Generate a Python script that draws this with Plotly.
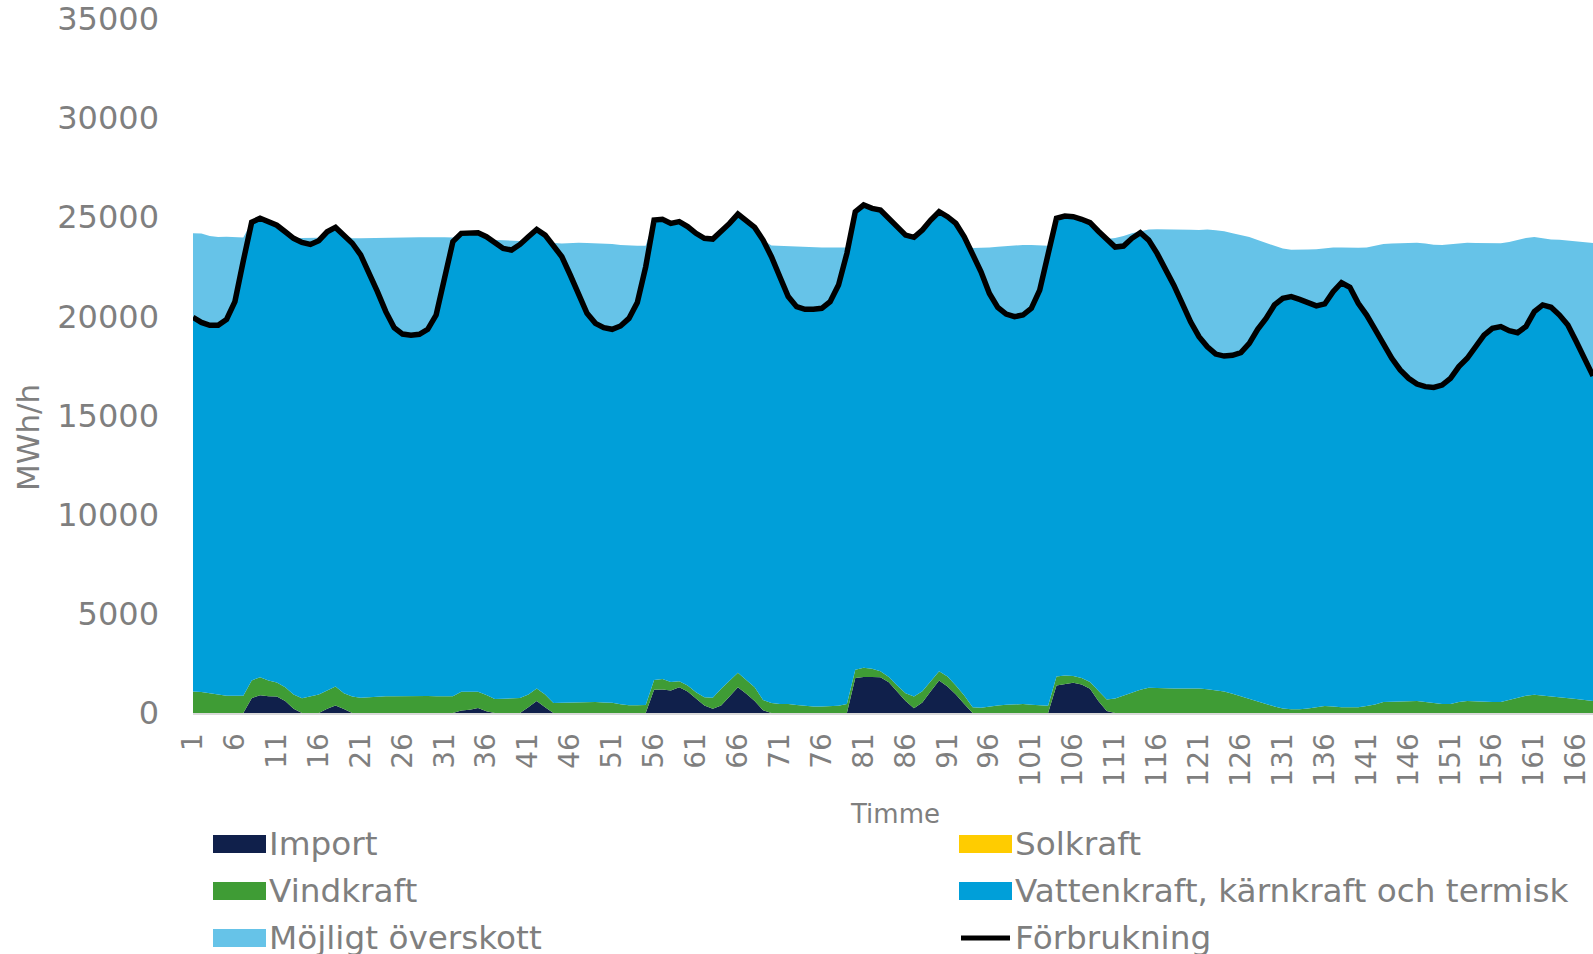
import plotly.graph_objects as go

# Timme 1..168
timme = list(range(1, 169))

# Förbrukning (MWh/h)
forbrukning = [
    19950, 19700, 19550, 19550, 19850, 20750, 22800, 24750, 24950, 24750,
    24600, 24270, 23940, 23730, 23630, 23820, 24270, 24490, 24100, 23690,
    23100, 22250, 21250, 20240, 19430, 19110, 19050, 19100, 19350, 20070,
    21840, 23770, 24190, 24220, 24220, 24020, 23720, 23430, 23350, 23630,
    24020, 24390, 24100, 23600, 23010, 22090, 21080, 20160, 19650, 19430,
    19350, 19520, 19900, 20700, 22500, 24860, 24900, 24690, 24780, 24530,
    24190, 23940, 23900, 24270, 24690, 25160, 24860, 24490, 23850, 23010,
    22000, 21000, 20490, 20360, 20360, 20410, 20740, 21580, 23180, 25280,
    25620, 25450, 25370, 24950, 24440, 24100, 23990, 24360, 24860, 25280,
    25030, 24690, 24020, 23180, 22250, 21160, 20460, 20120, 19990, 20070,
    20410, 21330, 23180, 24950, 25060, 25030, 24900, 24730, 24300, 23900,
    23500, 23550, 23940, 24220, 23850, 23180, 22420, 21580, 20660, 19730,
    18980, 18470, 18100, 18000, 18040, 18170, 18640, 19350, 19900, 20580,
    20910, 21000, 20860, 20710, 20530, 20630, 21250, 21700, 21470, 20660,
    20070, 19350, 18610, 17890, 17300, 16880, 16590, 16460, 16420, 16540,
    16880, 17470, 17890, 18470, 19060, 19400, 19490, 19280, 19180, 19490,
    20240, 20580, 20460, 20070, 19570, 18730, 17800, 17000,
]

import_ = [
    0, 0, 0, 0, 0, 0, 0,
    750, 900, 840, 830, 600, 210, 0, 0, 0, 210, 380, 200, 0,
    0, 0, 0, 0, 0, 0, 0, 0, 0, 0, 0, 0,
    130, 170, 250, 90, 0, 0, 0, 0, 290, 610, 290,
    0, 0, 0, 0, 0, 0, 0, 0, 0, 0, 0, 0,
    1170, 1190, 1140, 1300, 1080, 710, 380, 210, 380, 830, 1300, 970, 600, 140,
    0, 0, 0, 0, 0, 0, 0, 0, 0, 0,
    1770, 1810, 1810, 1800, 1550, 1100, 600, 240, 530, 1100, 1640, 1340, 930, 460,
    0, 0, 0, 0, 0, 0, 0, 0, 0, 0,
    1390, 1470, 1520, 1440, 1220, 600, 100,
    0, 0, 0, 0, 0, 0, 0, 0, 0, 0, 0, 0, 0, 0, 0, 0, 0, 0, 0, 0,
    0, 0, 0, 0, 0, 0, 0, 0, 0, 0, 0, 0, 0, 0, 0, 0, 0, 0, 0, 0,
    0, 0, 0, 0, 0, 0, 0, 0, 0, 0, 0, 0, 0, 0, 0, 0, 0, 0,
]

vindkraft = [
    1080, 1060, 1000, 920, 870, 870, 870,
    890, 900, 800, 710, 700, 720, 750, 830, 930, 920, 960, 800, 830,
    770, 800, 830, 850, 850, 860, 860, 860, 860, 850, 850, 850,
    940, 900, 820, 820, 710, 720, 730, 760, 640, 620, 640,
    500, 520, 530, 560, 560, 550, 530, 520, 440, 390, 390, 400,
    500, 520, 420, 300, 310, 340, 420, 560, 840, 810, 730, 700, 700, 520,
    510, 460, 450, 400, 350, 330, 330, 330, 360, 460,
    410, 470, 420, 310, 260, 290, 400, 590, 570, 500, 470, 500, 460, 420,
    290, 260, 330, 380, 410, 430, 450, 410, 380, 360,
    450, 420, 350, 330, 340, 540, 580,
    730, 880, 1050, 1170, 1270, 1250, 1240, 1230, 1230, 1230,
    1240, 1200, 1140, 1080, 970, 850, 710, 580, 460, 330,
    230, 190, 190, 230, 290, 350, 330, 290, 290, 290,
    350, 430, 550, 560, 560, 580, 600, 560, 500, 460,
    460, 550, 600, 580, 550, 550, 550, 660, 780, 870,
    920, 870, 830, 800, 750, 700, 660, 610,
]

solkraft = [0] * 168

# total tillgänglig produktion (övre kant av möjligt överskott)
tak = [
    24200, 24180, 24060, 24010, 24020, 23990, 23980, 23970, 23970, 23960,
    23960, 23950, 23950, 23950, 23960, 23970, 23960, 23950, 23950, 23940,
    23940, 23950, 23970, 23980, 23990, 24000, 24000, 23990, 23990, 24000,
    23990, 23980, 23970, 23960, 23940, 23900, 23860, 23840, 23820, 23800,
    23790, 23780, 23760, 23700, 23680, 23700, 23720, 23700, 23690, 23680,
    23650, 23600, 23570, 23560, 23560, 23560, 23560, 23560, 23560, 23560,
    23560, 23560, 23560, 23570, 23580, 23590, 23600, 23600, 23600, 23580,
    23560, 23540, 23520, 23500, 23490, 23480, 23480, 23480, 23480, 23480,
    23480, 23480, 23480, 23480, 23470, 23460, 23450, 23450, 23450, 23450,
    23450, 23450, 23450, 23450, 23460, 23480, 23520, 23550, 23580, 23600,
    23600, 23580, 23560, 23600, 23650, 23700, 23750, 23800, 23820, 23850,
    23950, 24050, 24200, 24300, 24390, 24400, 24400, 24380, 24370, 24370,
    24360, 24380, 24350, 24300, 24200, 24100, 24000, 23850, 23700, 23550,
    23420, 23360, 23350, 23370, 23390, 23440, 23480, 23480, 23460, 23460,
    23480, 23550, 23650, 23680, 23690, 23700, 23720, 23680, 23620, 23600,
    23640, 23700, 23720, 23700, 23690, 23680, 23690, 23750, 23850, 23950,
    24000, 23950, 23880, 23870, 23820, 23780, 23750, 23700,
]

vattenkraft = [f - i - v - s for f, i, v, s in zip(forbrukning, import_, vindkraft, solkraft)]
overskott = [max(0, t - f) for t, f in zip(tak, forbrukning)]

C_IMPORT = "#10204b"
C_VIND = "#3f9c35"
C_SOL = "#ffcc00"
C_VATTEN = "#009fd9"
C_OVER = "#66c3e8"
GREY = "#7f7f7f"
FONT = "DejaVu Sans"

fig = go.Figure()
for namn, y, col in [("Import", import_, C_IMPORT),
                     ("Vindkraft", vindkraft, C_VIND),
                     ("Solkraft", solkraft, C_SOL),
                     ("Vattenkraft, kärnkraft och termisk", vattenkraft, C_VATTEN),
                     ("Möjligt överskott", overskott, C_OVER)]:
    fig.add_trace(go.Scatter(x=timme, y=y, name=namn, mode="lines", stackgroup="one",
                             line=dict(width=0, color=col), fillcolor=col))
fig.add_trace(go.Scatter(x=timme, y=forbrukning, name="Förbrukning", mode="lines",
                         line=dict(width=5.5, color="black")))

# plot area in pixels
L, R, T, B = 193, 1593, 19, 713
W, H = 1593, 954


def px(X):
    return (X - L) / (R - L)


def py(Y):
    return (B - Y) / (B - T)


# legend (drawn by hand, two columns)
legend = [
    ("Import", C_IMPORT, 213, 844, "rect"),
    ("Vindkraft", C_VIND, 213, 891, "rect"),
    ("Möjligt överskott", C_OVER, 213, 938, "rect"),
    ("Solkraft", C_SOL, 959, 844, "rect"),
    ("Vattenkraft, kärnkraft och termisk", C_VATTEN, 959, 891, "rect"),
    ("Förbrukning", "black", 959, 938, "line"),
]
shapes = []
annotations = []
for txt, col, x0, yc, kind in legend:
    if kind == "rect":
        shapes.append(dict(type="rect", xref="paper", yref="paper",
                           x0=px(x0), x1=px(x0 + 53), y0=py(yc - 9), y1=py(yc + 9),
                           fillcolor=col, line=dict(width=0)))
    else:
        shapes.append(dict(type="line", xref="paper", yref="paper",
                           x0=px(x0 + 2), x1=px(x0 + 51), y0=py(yc), y1=py(yc),
                           line=dict(color=col, width=5)))
    annotations.append(dict(text=txt, xref="paper", yref="paper", x=px(x0 + 54), y=py(yc),
                            xanchor="left", yanchor="middle", showarrow=False,
                            font=dict(size=32.7, color=GREY, family=FONT)))

annotations.append(dict(text="Timme", xref="paper", yref="paper", x=px(895), y=py(814),
                        xanchor="center", yanchor="middle", showarrow=False,
                        font=dict(size=26, color=GREY, family=FONT)))
annotations.append(dict(text="MWh/h", xref="paper", yref="paper", x=px(28), y=py(438),
                        xanchor="center", yanchor="middle", showarrow=False, textangle=-90,
                        font=dict(size=31, color=GREY, family=FONT)))

fig.update_layout(
    width=W, height=H,
    margin=dict(l=L, r=W - R, t=T, b=H - B, pad=0),
    paper_bgcolor="white", plot_bgcolor="white",
    font=dict(family=FONT, color=GREY),
    showlegend=False,
    shapes=shapes,
    annotations=annotations,
    xaxis=dict(range=[1, 168], tick0=1, dtick=5, tickangle=-90,
               showgrid=False, zeroline=False, automargin=False,
               showline=True, linecolor="#d9d9d9", linewidth=2,
               ticks="", ticklabelstandoff=7,
               tickfont=dict(size=28, color=GREY, family=FONT)),
    yaxis=dict(range=[0, 35000], dtick=5000, tickformat="d", showgrid=False, zeroline=False,
               automargin=False, showline=False, ticks="", ticklabelstandoff=33,
               tickfont=dict(size=32, color=GREY, family=FONT)),
)

# page without body margin so the figure fills the window exactly
fig.write_html("out.html", config={"displayModeBar": False},
               post_script="document.body.style.margin='0';document.body.style.overflow='hidden';")
